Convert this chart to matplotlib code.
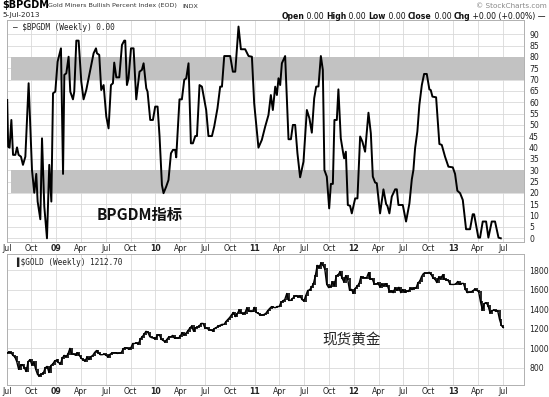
import numpy as np
import pandas as pd
import matplotlib
matplotlib.use('Agg')
import matplotlib.pyplot as plt

plt.rcParams['font.family'] = ['DejaVu Sans', 'Noto Sans CJK SC']

W, H = 549, 397

# $BPGDM weekly, vertices (decimal year, percent)
bp_t = [2008.505, 2008.515, 2008.529, 2008.547, 2008.564, 2008.587, 2008.604, 2008.620, 2008.644, 2008.664,
        2008.688, 2008.721, 2008.755, 2008.778, 2008.798, 2008.812, 2008.839, 2008.856, 2008.879, 2008.906,
        2008.929, 2008.950, 2008.967, 2008.990, 2009.013, 2009.047, 2009.068, 2009.081, 2009.101, 2009.124,
        2009.141, 2009.168, 2009.181, 2009.202, 2009.225, 2009.252, 2009.275, 2009.302, 2009.343, 2009.376,
        2009.400, 2009.410, 2009.433, 2009.453, 2009.477, 2009.504, 2009.527, 2009.551, 2009.571, 2009.584,
        2009.605, 2009.635, 2009.662, 2009.685, 2009.695, 2009.712, 2009.728, 2009.753, 2009.779, 2009.806,
        2009.839, 2009.863, 2009.880, 2009.907, 2009.920, 2009.947, 2009.974, 2009.997, 2010.021, 2010.041,
        2010.065, 2010.081, 2010.108, 2010.131, 2010.156, 2010.176, 2010.199, 2010.209, 2010.242, 2010.266,
        2010.290, 2010.310, 2010.333, 2010.357, 2010.377, 2010.401, 2010.418, 2010.444, 2010.468, 2010.491,
        2010.511, 2010.534, 2010.569, 2010.592, 2010.625, 2010.652, 2010.670, 2010.693, 2010.753, 2010.780,
        2010.804, 2010.837, 2010.861, 2010.904, 2010.938, 2010.972, 2010.995, 2011.038, 2011.072, 2011.106,
        2011.139, 2011.163, 2011.183, 2011.207, 2011.224, 2011.240, 2011.257, 2011.274, 2011.307, 2011.341,
        2011.365, 2011.385, 2011.408, 2011.431, 2011.458, 2011.492, 2011.526, 2011.552, 2011.576, 2011.600,
        2011.620, 2011.643, 2011.667, 2011.687, 2011.703, 2011.727, 2011.751, 2011.768, 2011.788, 2011.804,
        2011.828, 2011.844, 2011.868, 2011.895, 2011.902, 2011.919, 2011.939, 2011.962, 2011.979, 2012.013,
        2012.036, 2012.063, 2012.086, 2012.113, 2012.147, 2012.171, 2012.191, 2012.214, 2012.231, 2012.264,
        2012.298, 2012.325, 2012.338, 2012.358, 2012.382, 2012.416, 2012.433, 2012.449, 2012.493, 2012.526,
        2012.560, 2012.584, 2012.600, 2012.617, 2012.640, 2012.660, 2012.685, 2012.708, 2012.735, 2012.761,
        2012.775, 2012.792, 2012.829, 2012.862, 2012.886, 2012.919, 2012.953, 2012.997, 2013.020, 2013.043,
        2013.071, 2013.098, 2013.131, 2013.171, 2013.198, 2013.212, 2013.255, 2013.272, 2013.299, 2013.333,
        2013.356, 2013.390, 2013.423, 2013.458, 2013.481]
bp_v = [61.0, 40.4, 40.0, 52.2, 36.8, 36.8, 40.1, 36.8, 36.0, 32.4,
        36.0, 68.4, 30.1, 20.1, 28.4, 16.2, 8.4, 44.1, 14.0, 0.0,
        32.4, 16.2, 64.0, 64.7, 77.9, 83.8, 28.4, 72.1, 72.8, 80.1,
        64.7, 61.3, 64.7, 87.2, 87.2, 69.1, 61.3, 65.4, 74.3, 81.6,
        83.8, 81.6, 80.9, 65.4, 67.6, 53.7, 48.5, 67.6, 68.4, 77.5,
        71.0, 71.0, 85.3, 87.2, 87.2, 67.6, 70.6, 83.8, 83.8, 61.3,
        73.5, 74.3, 77.2, 66.2, 64.7, 52.2, 52.2, 58.1, 58.1, 44.9,
        23.5, 19.9, 22.8, 25.7, 37.5, 39.0, 39.0, 35.7, 61.3, 61.3,
        69.9, 70.6, 77.2, 41.9, 41.9, 45.1, 45.1, 67.6, 66.9, 61.3,
        56.6, 45.1, 45.1, 49.3, 57.4, 66.9, 66.9, 80.4, 80.4, 73.5,
        73.5, 93.4, 83.4, 83.4, 80.4, 80.1, 59.5, 40.0, 43.4, 49.3,
        54.4, 63.2, 56.6, 66.9, 63.2, 70.6, 67.6, 77.2, 80.4, 43.7,
        43.7, 50.0, 50.0, 37.5, 26.9, 33.8, 56.6, 52.9, 46.6, 61.8,
        66.9, 67.0, 80.4, 74.3, 30.1, 27.2, 13.2, 24.0, 24.0, 52.2,
        52.2, 65.7, 44.1, 36.8, 35.3, 38.2, 14.7, 14.3, 11.0, 17.6,
        17.6, 44.9, 42.6, 38.2, 55.4, 46.3, 27.2, 24.6, 24.3, 11.0,
        21.6, 15.1, 14.3, 11.0, 18.4, 21.6, 21.6, 14.7, 14.7, 7.4,
        15.4, 26.0, 30.1, 39.7, 47.1, 58.8, 67.6, 72.5, 72.5, 65.7,
        65.4, 62.5, 62.2, 41.6, 41.2, 36.0, 31.6, 31.3, 28.4, 21.0,
        19.9, 16.9, 4.0, 4.0, 10.6, 10.6, 0.3, 0.3, 7.4, 7.4,
        0.3, 7.4, 7.4, 0.3, 0.0]

# $GOLD weekly closes, 4-Jul-2008 .. 5-Jul-2013
gold_close = [
    955, 962, 955, 928, 912, 864, 785, 830, 833, 800, 763, 865, 885, 830, 860, 785, 730, 718,
    735, 745, 800, 815, 752, 825, 840, 872,
    878, 855, 838, 900, 928, 914, 942, 1000, 942, 940, 930, 955, 925, 898, 880, 870, 910,
    885, 915, 928, 958, 978, 955, 935, 935, 940, 930, 912, 938, 952, 954, 956, 948, 952,
    955, 996, 1006, 1004, 990, 1003, 1050, 1050, 1057, 1045, 1096, 1118, 1147, 1175,
    1165, 1120, 1110, 1105,
    1097, 1138, 1140, 1095, 1082, 1065, 1093, 1118, 1118, 1133, 1104, 1107, 1104, 1125,
    1162, 1136, 1155, 1180, 1208, 1228, 1177, 1212, 1217, 1229, 1256, 1256, 1208, 1210,
    1191, 1189, 1181, 1204, 1215, 1228, 1237, 1247, 1246, 1275, 1297, 1318, 1346, 1369,
    1326, 1357, 1394, 1366, 1353, 1363, 1413, 1384, 1379, 1380, 1421,
    1369, 1360, 1342, 1341, 1348, 1360, 1388, 1410, 1429, 1421, 1418, 1430, 1429, 1474,
    1486, 1504, 1563, 1492, 1493, 1510, 1536, 1542, 1529, 1539, 1501, 1486, 1542, 1594,
    1601, 1628, 1663, 1744, 1852, 1828, 1877, 1856, 1813, 1657, 1624, 1635, 1683, 1643,
    1745, 1755, 1788, 1724, 1684, 1746, 1711, 1597, 1606, 1566,
    1617, 1638, 1664, 1737, 1725, 1725, 1725, 1776, 1710, 1713, 1658, 1662, 1669, 1631,
    1659, 1642, 1663, 1643, 1581, 1592, 1572, 1622, 1595, 1627, 1572, 1604, 1578, 1590,
    1584, 1618, 1604, 1621, 1616, 1671, 1691, 1740, 1770, 1773, 1772, 1781, 1758, 1723,
    1711, 1676, 1730, 1714, 1751, 1713, 1702, 1696, 1657, 1656,
    1656, 1662, 1687, 1658, 1667, 1667, 1609, 1573, 1576, 1578, 1592, 1607, 1596, 1581,
    1476, 1395, 1462, 1469, 1435, 1365, 1387, 1392, 1383, 1387, 1296, 1234, 1213]

bp_ticks = list(range(0, 95, 5))
gold_ticks = [800, 1000, 1200, 1400, 1600, 1800]
month_names = {4: 'Apr', 7: 'Jul', 10: 'Oct'}

dates = pd.date_range('2008-07-04', periods=len(gold_close), freq='W-FRI')
days_in_year = np.where(dates.is_leap_year, 366, 365)
gold_t = dates.year + (dates.dayofyear - 1) / days_in_year
gold_c = np.array(gold_close, dtype=float)
gold_o = np.r_[gold_c[0], gold_c[:-1]]

xmin, xmax = 2008.503, 2013.710

# month ticks
tick_pos, tick_lab, tick_bold = [], [], []
for yr in range(2008, 2014):
    for m in (1, 4, 7, 10):
        t = yr + (m - 1) / 12
        if t < 2008.49 or t > 2013.55:
            continue
        tick_pos.append(t)
        if m == 1:
            tick_lab.append('%02d' % (yr % 100))
            tick_bold.append(True)
        else:
            tick_lab.append(month_names[m])
            tick_bold.append(False)


def fx(px):
    return px / W


def fy(py):
    return 1 - py / H


fig = plt.figure(figsize=(W / 100, H / 100), dpi=100)
fig.patch.set_facecolor('white')

ax1 = fig.add_axes([fx(6.7), fy(241.7), (523.5 - 6.7) / W, (241.7 - 20) / H])
ax2 = fig.add_axes([fx(6.7), fy(385), (523.5 - 6.7) / W, (385 - 254) / H])

for ax in (ax1, ax2):
    ax.set_xlim(xmin, xmax)
    ax.set_xticks(tick_pos)
    ax.set_xticklabels(tick_lab)
    for lab, b in zip(ax.get_xticklabels(), tick_bold):
        lab.set_fontweight('bold' if b else 'normal')
    ax.yaxis.tick_right()
    ax.tick_params(axis='both', length=0, labelsize=5.6, colors='#222222')
    ax.tick_params(axis='x', pad=1.5)
    ax.tick_params(axis='y', pad=4)
    ax.grid(True, color='#d9d9d9', linewidth=0.6)
    ax.set_axisbelow(True)
    for sp in ax.spines.values():
        sp.set_color('#b0b0b0')
        sp.set_linewidth(0.7)

# top panel
ax1.set_ylim(-1.5, 96.3)
ax1.set_yticks(bp_ticks)
ax1.fill_between([2008.547, xmax], 20, 30, color='#c2c2c2', linewidth=0, zorder=1)
ax1.fill_between([2008.547, xmax], 70, 80, color='#c2c2c2', linewidth=0, zorder=1)
ax1.plot(bp_t, bp_v, color='black', linewidth=1.4, zorder=3)
ax1.text(0.013, 0.985, '\u2014 $BPGDM (Weekly) 0.00', transform=ax1.transAxes,
         fontsize=5.6, family='DejaVu Sans Mono', va='top', ha='left', color='#222222')
ax1.text(2009.84, 10.5, 'BPGDM指标', fontsize=11, fontweight='bold',
         family=['Noto Sans CJK SC', 'DejaVu Sans'], ha='center', va='center', color='#111111')

# bottom panel
ax2.set_ylim(624, 1969)
ax2.set_yticks(gold_ticks)
ax2.vlines(gold_t, np.minimum(gold_o, gold_c) - 8, np.maximum(gold_o, gold_c) + 8,
           color='black', linewidth=1.2, zorder=3)
ax2.plot(gold_t, gold_c, color='black', linewidth=1.0, zorder=3)
ax2.text(0.019, 0.975, '\u258c$GOLD (Weekly) 1212.70', transform=ax2.transAxes,
         fontsize=5.6, family='DejaVu Sans Mono', va='top', ha='left', color='#222222')
ax2.text(2011.975, 1080, '现货黄金', fontsize=10.5,
         family=['Noto Sans CJK SC', 'DejaVu Sans'], ha='center', va='center', color='#222222')

# header
fig.text(fx(2), fy(5.5), '$BPGDM', fontsize=7, fontweight='bold', va='center', ha='left')
fig.text(fx(48), fy(6), 'Gold Miners Bullish Percent Index (EOD)', fontsize=4.6,
         va='center', ha='left', color='#333333')
fig.text(fx(182), fy(6), 'INDX', fontsize=4.6, va='center', ha='left', color='#333333')
fig.text(fx(2), fy(14.5), '5-Jul-2013', fontsize=5.2, va='center', ha='left', color='#222222')
fig.text(fx(547), fy(6), '\u00a9 StockCharts.com', fontsize=5.2, va='center', ha='right',
         color='#888888')

# quote line, laid out piece by piece from the right edge
hdr = [('Open', True), (' 0.00 ', False), ('High', True), (' 0.00 ', False),
       ('Low', True), (' 0.00 ', False), ('Close', True), (' 0.00 ', False),
       ('Chg', True), (' +0.00 (+0.00%) \u2014', False)]
renderer = fig.canvas.get_renderer()
x = 546.0
for s, b in reversed(hdr):
    t = fig.text(fx(x), fy(16.5), s, fontsize=5.6, fontweight='bold' if b else 'normal',
                 va='center', ha='right', color='#111111')
    x -= t.get_window_extent(renderer).width

fig.savefig('out.png', dpi=100, facecolor='white')
